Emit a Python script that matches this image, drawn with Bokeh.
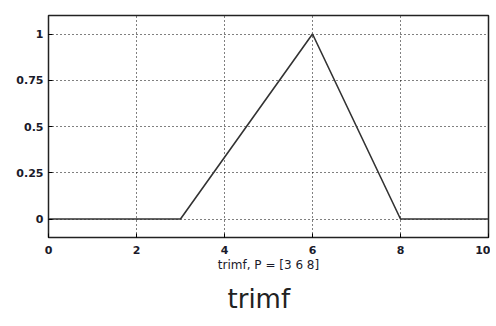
from bokeh.plotting import figure
from bokeh.models import FixedTicker, Title, ColumnDataSource
from bokeh.embed import file_html
from bokeh.resources import INLINE

# data
x_vals = [0, 3, 6, 8, 10]
y_vals = [0, 0, 1, 0, 0]
x_ticks = [0, 2, 4, 6, 8, 10]
y_ticks = [0, 0.25, 0.5, 0.75, 1]
y_tick_labels = ["0", "0.25", "0.5", "0.75", "1"]
x_label = "trimf, P = [3 6 8]"
title_text = "trimf"

p = figure(width=490, height=326, x_range=(0, 10), y_range=(-0.1, 1.1),
           output_backend="svg", toolbar_location=None,
           min_border_left=48, min_border_top=15, min_border_right=2, min_border_bottom=89)
p.background_fill_color = "white"
p.border_fill_color = "white"
p.outline_line_color = "#222222"
p.outline_line_width = 1.5

src = ColumnDataSource(dict(x=x_vals, y=y_vals))
p.line("x", "y", source=src, line_color="#333333", line_width=1.6)

p.xaxis.ticker = FixedTicker(ticks=x_ticks)
p.yaxis.ticker = FixedTicker(ticks=y_ticks)
p.yaxis.major_label_overrides = {t: l for t, l in zip(y_ticks, y_tick_labels)}

for ax in (p.xaxis[0], p.yaxis[0]):
    ax.axis_line_color = None
    ax.major_tick_in = 4
    ax.major_tick_out = 0
    ax.major_tick_line_color = "black"
    ax.minor_tick_line_color = None
    ax.major_label_text_font = "DejaVu Sans"
    ax.major_label_text_font_style = "bold"
    ax.major_label_text_font_size = "11px"
    ax.major_label_text_color = "#1a1a2a"

p.xaxis.major_label_standoff = 8
p.yaxis.major_label_standoff = 5
p.xaxis.axis_label = x_label
p.xaxis.axis_label_text_font = "DejaVu Sans"
p.xaxis.axis_label_text_font_style = "normal"
p.xaxis.axis_label_text_font_size = "12px"
p.xaxis.axis_label_text_color = "#1a1a2a"
p.xaxis.axis_label_standoff = 1

p.grid.grid_line_color = "black"
p.grid.grid_line_dash = "1 3"
p.grid.grid_line_width = 1
p.xgrid.ticker = FixedTicker(ticks=x_ticks)
p.ygrid.ticker = FixedTicker(ticks=y_ticks)

title = Title(text=title_text, align="left", offset=179, standoff=19,
              vertical_align="top",
              text_font="DejaVu Sans", text_font_style="normal",
              text_font_size="26px", text_color="#222222")
p.add_layout(title, "below")

open("out.html", "w").write(file_html(p, INLINE))
